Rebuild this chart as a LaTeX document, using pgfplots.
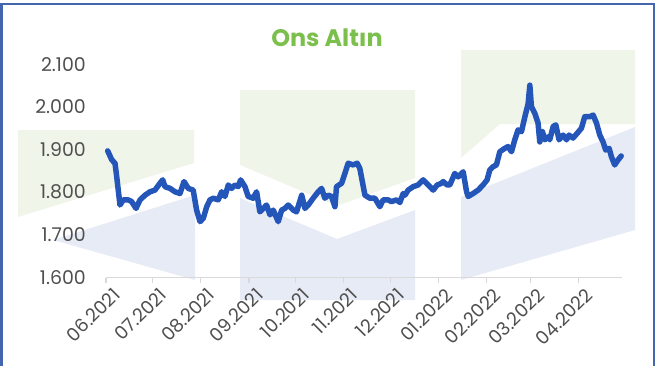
\documentclass[border=0pt]{standalone}
\usepackage{fontspec}
\setmainfont{Poppins}
\usepackage{pgfplots}
\pgfplotsset{compat=1.18}
\definecolor{bggreen}{HTML}{F0F5EA}
\definecolor{bgblue}{HTML}{E7EBF5}
\definecolor{linecol}{HTML}{2456BA}
\definecolor{titlecol}{HTML}{7BBF4C}
\definecolor{framecol}{HTML}{4466AE}
\definecolor{txtcol}{HTML}{4F4F4F}
\definecolor{axcol}{HTML}{D9D9D9}
\begin{document}
\begin{tikzpicture}[x=1bp,y=1bp]
\useasboundingbox (0,0) rectangle (660,366);
% decorative background
\fill[bggreen] (18,236) -- (194,236) -- (194,203) -- (18,149) -- cycle;
\fill[bgblue] (53,126) -- (195,171) -- (195,86) -- cycle;
\fill[bggreen] (240,276) -- (415,276) -- (415,188) -- (337,160) -- (240,201) -- cycle;
\fill[bgblue] (240,168) -- (337,127) -- (415,156) -- (415,66) -- (240,66) -- cycle;
\fill[bggreen] (461,316) -- (635,316) -- (635,242) -- (500,242) -- (461,208) -- cycle;
\fill[bgblue] (461,169) -- (635,239) -- (635,136) -- (461,86) -- cycle;
% frame
\draw[framecol, line width=2bp] (1.5,0) -- (1.5,362) -- (654,362) -- (654,0);
% title
\node[text=titlecol, font=\fontsize{24}{24}\selectfont\bfseries] at (327,328) {Ons Altın};
\begin{axis}[
  at={(106bp,88.5bp)}, anchor=south west,
  scale only axis, width=516bp, height=213.2bp,
  xmin=0, xmax=332, ymin=1600, ymax=2100,
  clip=false,
  axis x line*=bottom, axis y line*=left,
  x axis line style={draw=axcol, line width=1.5bp, -},
  y axis line style={draw=none},
  ytick={1600,1700,1800,1900,2000,2100},
  yticklabels={1.600,1.700,1.800,1.900,2.000,2.100},
  ytick style={draw=none},
  yticklabel style={anchor=east, inner sep=0pt, xshift=-20bp, text=txtcol, font=\fontsize{19}{19}\selectfont},
  xtick={0,30,61,92,122,153,183,214,245,273,304},
  xticklabels={06.2021,07.2021,08.2021,09.2021,10.2021,11.2021,12.2021,01.2022,02.2022,03.2022,04.2022},
  xtick align=outside, major tick length=5bp,
  xtick style={draw=axcol, line width=1.2bp},
  xticklabel style={rotate=45, anchor=east, inner sep=0pt, xshift=1bp, yshift=-14bp, text=txtcol, font=\fontsize{18.5}{18.5}\selectfont},
]
\addplot[linecol, line width=5.5bp, line join=round, line cap=round] coordinates {
(1.1,1897) (3.7,1876) (5.8,1868) (6.9,1836) (9.0,1770) (11.1,1782) (14.3,1782) (16.5,1778)
(19.3,1762) (21.9,1782) (25.1,1793) (28.3,1801) (31.5,1805) (34.7,1821) (36.5,1829) (37.9,1813)
(41.2,1809) (44.4,1801) (47.6,1797) (50.2,1825) (52.9,1809) (56.1,1805) (58.3,1758) (60.5,1731)
(62.6,1739) (64.8,1766) (66.9,1782) (69.0,1786) (72.2,1782) (74.4,1801) (76.5,1790) (78.7,1817)
(80.8,1809) (83.0,1817) (85.1,1813) (86.6,1829) (89.4,1813) (91.5,1790) (94.7,1786) (96.9,1801)
(99.0,1754) (101.2,1762) (103.3,1770) (105.5,1747) (107.6,1758) (110.8,1731) (113.0,1758) (115.1,1762)
(117.2,1770) (120.5,1758) (122.6,1754) (125.9,1793) (128.0,1762) (130.1,1770) (133.3,1786) (136.5,1801)
(138.7,1809) (140.8,1786) (143.0,1793) (145.1,1790) (147.3,1766) (148.3,1813) (151.6,1821) (153.7,1844)
(155.8,1868) (159.0,1864) (161.6,1868) (163.3,1856) (166.6,1793) (169.8,1786) (173.0,1786) (176.2,1766)
(178.3,1782) (181.5,1782) (183.7,1778) (186.9,1782) (189.1,1776) (191.2,1797) (192.3,1793) (194.4,1805)
(197.6,1813) (200.8,1817) (204.1,1829) (206.2,1821) (208.4,1813) (210.5,1805) (213.1,1817) (215.9,1821)
(216.9,1825) (219.5,1817) (221.2,1817) (224.4,1844) (226.6,1836) (229.8,1848) (232.0,1801) (233.0,1790)
(236.2,1797) (239.4,1805) (242.6,1817) (245.2,1829) (246.9,1852) (249.1,1860) (251.2,1864) (253.4,1895)
(256.6,1903) (258.7,1907) (260.9,1895) (263.0,1923) (265.1,1946) (267.3,1942) (269.5,1977) (271.6,2008)
(272.7,2051) (273.7,2001) (275.9,1985) (278.0,1962) (279.1,1918) (280.8,1942) (282.3,1923) (284.4,1930)
(285.5,1923) (287.7,1954) (289.4,1958) (291.5,1923) (294.1,1934) (296.3,1923) (297.9,1934) (300.5,1927)
(303.1,1938) (305.9,1950) (308.0,1977) (311.3,1977) (313.4,1981) (315.6,1962) (317.7,1934) (319.8,1918)
(321.5,1899) (323.7,1903) (325.2,1883) (327.3,1864) (329.5,1876) (331.5,1885)
};
\end{axis}
\end{tikzpicture}
\end{document}
